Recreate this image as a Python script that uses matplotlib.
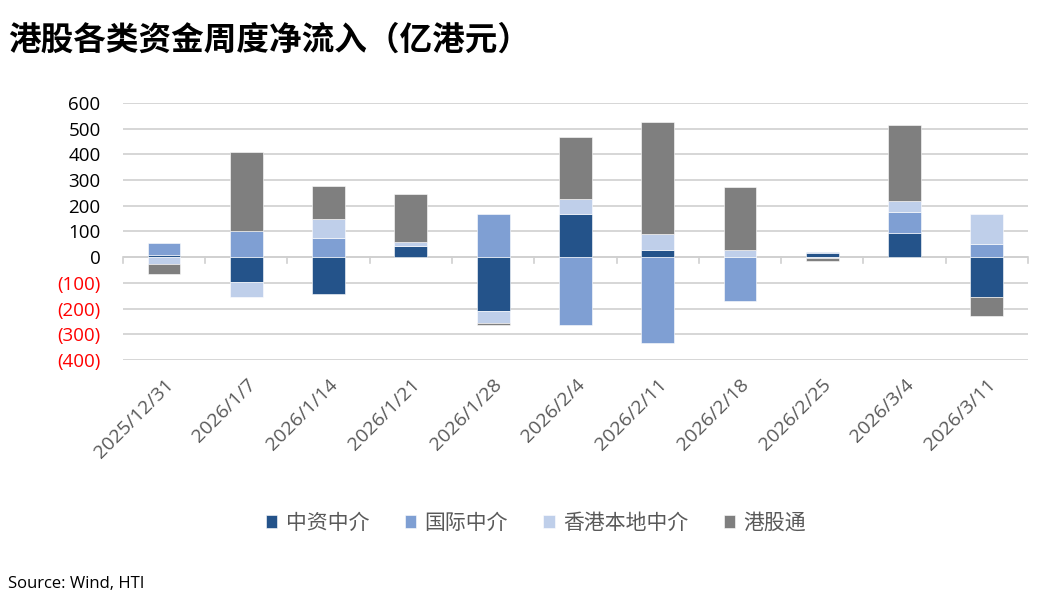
import matplotlib.pyplot as plt
import numpy as np

plt.rcParams['font.family'] = ['Noto Sans CJK SC', 'DejaVu Sans']

# 数据（亿港元，从图中估读）
dates = ['2025/12/31', '2026/1/7', '2026/1/14', '2026/1/21', '2026/1/28', '2026/2/4',
         '2026/2/11', '2026/2/18', '2026/2/25', '2026/3/4', '2026/3/11']
zhongzi = [10, -98, -143, 44, -209, 169, 27, 0, 16, 96, -156]        # 中资中介
guoji = [45, 100, 76, 0, 169, -265, -334, -171, 6, 79, 50]           # 国际中介
hk_local = [-28, -56, 73, 15, -48, 58, 64, 27, -5, 43, 120]          # 香港本地中介
ggt = [-37, 311, 129, 185, -8, 242, 436, 247, -8, 298, -72]          # 港股通

series = [('中资中介', zhongzi, '#24538A'),
          ('国际中介', guoji, '#7F9FD3'),
          ('香港本地中介', hk_local, '#BFCFEA'),
          ('港股通', ggt, '#7F7F7F')]

fig = plt.figure(figsize=(10.41, 6.06), dpi=100)
ax = fig.add_axes([0.118, 0.406, 0.8695, 0.424])

x = np.arange(len(dates))
pos_base = np.zeros(len(dates))
neg_base = np.zeros(len(dates))
handles = []
for name, vals, color in series:
    v = np.array(vals, dtype=float)
    bottom = np.where(v >= 0, pos_base, neg_base)
    b = ax.bar(x, v, bottom=bottom, width=0.4, color=color, edgecolor='white',
               linewidth=0.4, label=name, zorder=3)
    handles.append(b)
    pos_base += np.where(v >= 0, v, 0)
    neg_base += np.where(v < 0, v, 0)

ax.set_xlim(-0.5, len(dates) - 0.5)
ax.set_ylim(-400, 600)
yt = np.arange(-400, 601, 100)
ax.set_yticks(yt)
ax.set_yticklabels([f'{t}' if t >= 0 else f'({-t})' for t in yt], fontsize=13.5,
                   family=['Open Sans', 'DejaVu Sans'])
for lab, t in zip(ax.get_yticklabels(), yt):
    if t < 0:
        lab.set_color('#FF0000')
ax.grid(True, axis='y', color='#D0D0D0', linewidth=1.2, zorder=0)
ax.tick_params(axis='y', length=0, pad=16)

ax.set_xticks(x)
ax.set_xticklabels(dates, rotation=45, ha='right', rotation_mode='anchor',
                   fontsize=14, color='#595959', family=['Open Sans', 'DejaVu Sans'])
ax.tick_params(axis='x', length=0, pad=11)

for s in ax.spines.values():
    s.set_visible(False)

# 零轴及分类刻度
ax.axhline(0, color='#D0D0D0', linewidth=1.2, zorder=2)
for b in np.arange(-0.5, len(dates), 1.0):
    ax.plot([b, b], [0, -22], color='#D0D0D0', linewidth=1.2, zorder=2, clip_on=False)

fig.text(0.008, 0.933, '港股各类资金周度净流入（亿港元）', fontsize=23.5, fontweight='bold',
         ha='left', va='center')

fig.legend(handles=handles, loc='center', bbox_to_anchor=(0.515, 0.137), ncol=4,
           frameon=False, fontsize=15, handlelength=0.55, handleheight=0.55,
           handletextpad=0.4, columnspacing=1.7, labelcolor='#595959')

fig.text(0.008, 0.036, 'Source: Wind, HTI', fontsize=12, ha='left', va='center',
         family=['Open Sans', 'DejaVu Sans'])

fig.savefig('out.png', dpi=100)
